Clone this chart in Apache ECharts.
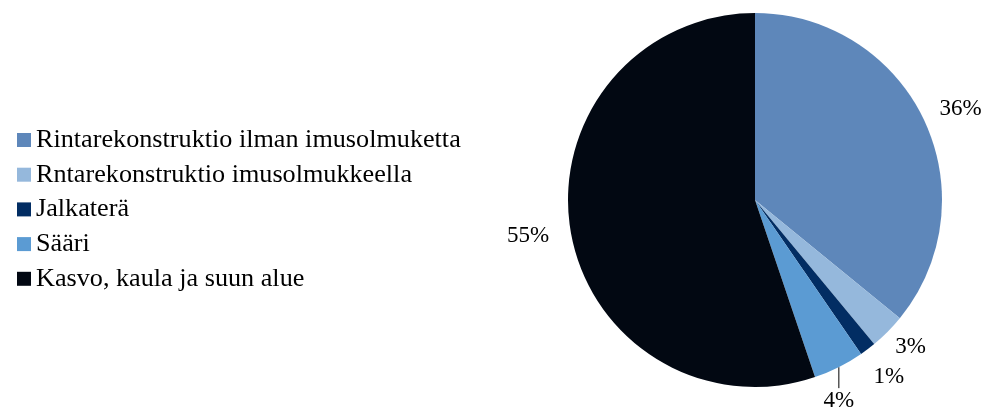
<!DOCTYPE html>
<html>
<head>
<meta charset="utf-8">
<script src="https://cdn.jsdelivr.net/npm/echarts@6/dist/echarts.min.js"></script>
<style>
html,body{margin:0;padding:0;background:#fff;}
#chart{width:987px;height:413px;}
</style>
</head>
<body>
<div id="chart"></div>
<script>
const categories = [
  'Rintarekonstruktio ilman imusolmuketta',
  'Rntarekonstruktio imusolmukkeella',
  'Jalkaterä',
  'Sääri',
  'Kasvo, kaula ja suun alue'
];
const values = [35.9, 3.1, 1.4, 4.4, 55.2];
const colors = ['#5E87BA', '#95B8DC', '#022D63', '#5B9BD3', '#020812'];

const chart = echarts.init(document.getElementById('chart'), null, {renderer: 'canvas'});
const data = categories.map((name, i) => ({
  name: name,
  value: values[i],
  itemStyle: {color: colors[i]},
  labelLine: {show: i === 3}
}));

// small label nudges (style only), by slice index
const labelNudge = {0: [5, 4], 1: [-2, -10], 4: [-8, 0]};

chart.setOption({
  animation: false,
  backgroundColor: '#ffffff',
  legend: {
    orient: 'vertical',
    left: 12,
    top: 120,
    itemWidth: 14,
    itemHeight: 14,
    itemGap: 4.7,
    icon: 'rect',
    data: categories,
    textStyle: {
      fontFamily: 'Liberation Serif',
      fontSize: 26.2,
      lineHeight: 30,
      color: '#000'
    }
  },
  series: [{
    type: 'pie',
    center: [755, 200],
    radius: 187,
    startAngle: 90,
    clockwise: true,
    avoidLabelOverlap: false,
    data: data,
    label: {
      show: true,
      position: 'outside',
      formatter: p => Math.round(p.percent) + '%',
      fontFamily: 'Liberation Serif',
      fontSize: 23,
      color: '#000',
      distanceToLabelLine: 0
    },
    labelLine: {
      show: false,
      length: 35,
      length2: 0,
      lineStyle: {color: '#000', width: 1}
    },
    labelLayout: function (p) {
      const o = {align: 'center', verticalAlign: 'middle'};
      if (p.dataIndex === 3 && p.labelLinePoints) {
        const s = p.labelLinePoints[0];
        o.x = s[0];
        o.y = s[1] + 34;
        o.labelLinePoints = [[s[0], s[1]], [s[0], s[1] + 21]];
      }
      const n = labelNudge[p.dataIndex];
      if (n) {
        o.dx = n[0];
        o.dy = n[1];
      }
      return o;
    },
    emphasis: {disabled: true}
  }]
});
</script>
</body>
</html>
